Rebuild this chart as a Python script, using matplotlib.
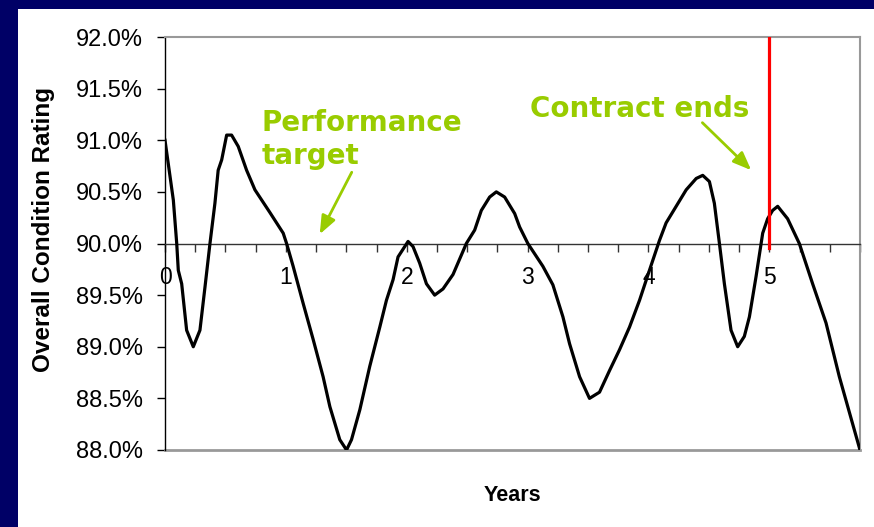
import matplotlib
matplotlib.use('Agg')
import matplotlib.pyplot as plt
from matplotlib.patches import Rectangle
from matplotlib.ticker import FuncFormatter, MultipleLocator

# Кривая рейтинга состояния (годы, %)
years = [0.000, 0.069, 0.097, 0.110, 0.138, 0.179, 0.234, 0.289, 0.331, 0.372,
         0.413, 0.440, 0.469, 0.510, 0.551, 0.606, 0.675, 0.744, 0.868, 0.978,
         1.006, 1.060, 1.143, 1.226, 1.308, 1.364, 1.446, 1.502, 1.543, 1.612,
         1.694, 1.777, 1.832, 1.887, 1.928, 2.011, 2.052, 2.107, 2.163, 2.231,
         2.300, 2.383, 2.493, 2.562, 2.617, 2.686, 2.741, 2.810, 2.893, 2.934,
         3.002, 3.126, 3.209, 3.292, 3.347, 3.430, 3.512, 3.595, 3.678, 3.760,
         3.843, 3.926, 4.008, 4.091, 4.146, 4.229, 4.312, 4.395, 4.449, 4.504,
         4.545, 4.587, 4.628, 4.683, 4.738, 4.793, 4.835, 4.890, 4.945, 4.986,
         5.027, 5.069, 5.151, 5.248, 5.358, 5.469, 5.579, 5.750]
rating = [91.00, 90.42, 90.00, 89.74, 89.61, 89.16, 89.00, 89.16, 89.58, 90.00,
          90.39, 90.71, 90.81, 91.05, 91.05, 90.94, 90.71, 90.52, 90.30, 90.10,
          90.00, 89.78, 89.42, 89.07, 88.71, 88.42, 88.10, 88.00, 88.10, 88.39,
          88.81, 89.19, 89.45, 89.65, 89.87, 90.02, 89.97, 89.81, 89.61, 89.50,
          89.56, 89.70, 90.00, 90.13, 90.32, 90.45, 90.50, 90.45, 90.29, 90.16,
          90.00, 89.78, 89.60, 89.29, 89.03, 88.71, 88.50, 88.56, 88.77, 88.97,
          89.19, 89.45, 89.74, 90.03, 90.20, 90.36, 90.52, 90.63, 90.66, 90.60,
          90.39, 90.00, 89.61, 89.16, 89.00, 89.10, 89.29, 89.68, 90.10, 90.24,
          90.32, 90.36, 90.24, 90.00, 89.61, 89.23, 88.71, 88.00]

target = 90.0
contract_end = 5
y_min, y_max = 88.0, 92.0
x_max = 5.75

navy = '#000066'
green = '#99CC00'
grey = '#999999'

plt.rcParams['font.family'] = ['Liberation Sans', 'DejaVu Sans']

fig = plt.figure(figsize=(8.74, 5.27), dpi=100)
fig.patch.set_facecolor(navy)
# белая область слайда
fig.add_artist(Rectangle((18 / 874, 0), 1, 1 - 9 / 527, transform=fig.transFigure,
                         facecolor='white', edgecolor='none', zorder=-10))

ax = fig.add_axes([165 / 874, 1 - 450 / 527, (860 - 165) / 874, (450 - 37) / 527])
ax.set_facecolor('white')

ax.plot(years, rating, color='black', linewidth=2.3, solid_joinstyle='round', zorder=3)
ax.plot([contract_end, contract_end], [target - 0.04, y_max], color='red',
        linewidth=2.3, zorder=4)

ax.set_xlim(0, x_max)
ax.set_ylim(y_min, y_max)

# ось X проходит через 90%
ax.spines['bottom'].set_position(('data', target))
ax.spines['bottom'].set_color('#333333')
ax.spines['bottom'].set_linewidth(1.0)
ax.spines['left'].set_color('black')
ax.spines['left'].set_linewidth(1.0)
for s in ('top', 'right'):
    ax.spines[s].set_color(grey)
    ax.spines[s].set_linewidth(1.5)
ax.plot([0, 1], [0, 0], transform=ax.transAxes, color=grey, linewidth=2,
        clip_on=False, zorder=2)

ax.xaxis.set_major_locator(MultipleLocator(1))
ax.xaxis.set_minor_locator(MultipleLocator(0.25))
ax.tick_params(axis='x', which='both', direction='out', length=6, width=1,
               color='#333333', labelsize=16.5, pad=10)
ax.yaxis.set_major_locator(MultipleLocator(0.5))
ax.yaxis.set_major_formatter(FuncFormatter(lambda v, p: f'{v:.1f}%'))
ax.tick_params(axis='y', direction='out', length=6, width=1, labelsize=17, pad=10)

ax.set_xlabel('Years', fontsize=15.5, fontweight='bold')
ax.xaxis.set_label_coords(0.5, -0.085)
ax.set_ylabel('Overall Condition Rating', fontsize=17.5, fontweight='bold')
ax.yaxis.set_label_coords(-0.158, 0.535)

# подписи с зелёными стрелками
arrow = dict(arrowstyle='-|>,head_length=0.55,head_width=0.22', color=green,
             lw=2, mutation_scale=20, shrinkA=0, shrinkB=0)
ax.text(0.80, 91.30, 'Performance\ntarget', color=green, fontsize=20,
        fontweight='bold', family='DejaVu Sans', ha='left', va='top',
        linespacing=1.2)
ax.annotate('', xy=(1.28, 90.09), xytext=(1.545, 90.69), arrowprops=arrow)
ax.text(3.017, 91.44, 'Contract ends', color=green, fontsize=20,
        fontweight='bold', family='DejaVu Sans', ha='left', va='top')
ax.annotate('', xy=(4.85, 90.71), xytext=(4.446, 91.17), arrowprops=arrow)

plt.savefig('out.png', dpi=100, facecolor=fig.get_facecolor())
